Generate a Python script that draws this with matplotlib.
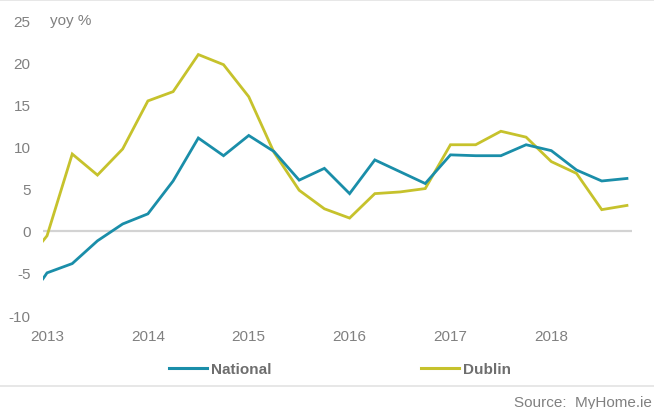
import matplotlib
matplotlib.use("Agg")
import matplotlib.pyplot as plt
from matplotlib.lines import Line2D

plt.rcParams['font.family'] = ['Liberation Sans', 'DejaVu Sans']

quarters = [2012.96, 2013.0, 2013.25, 2013.5, 2013.75, 2014.0, 2014.25, 2014.5, 2014.75,
            2015.0, 2015.25, 2015.5, 2015.75, 2016.0, 2016.25, 2016.5, 2016.75,
            2017.0, 2017.25, 2017.5, 2017.75, 2018.0, 2018.25, 2018.5, 2018.75]
national = [-5.7, -5.0, -3.9, -1.2, 0.8, 2.0, 5.9, 11.0, 8.9, 11.3, 9.4, 6.0, 7.4,
            4.4, 8.4, 7.0, 5.6, 9.0, 8.9, 8.9, 10.2, 9.5, 7.2, 5.9, 6.2]
dublin = [-1.2, -0.6, 9.1, 6.6, 9.7, 15.4, 16.5, 20.9, 19.7, 15.9, 9.3, 4.8, 2.6,
          1.5, 4.4, 4.6, 5.0, 10.2, 10.2, 11.8, 11.1, 8.2, 6.8, 2.5, 3.0]
year_ticks = [2013, 2014, 2015, 2016, 2017, 2018]
y_ticks = [-10, -5, 0, 5, 10, 15, 20, 25]

c_nat = '#1a8ea9'
c_dub = '#c6c22c'
c_txt = '#808080'
fs = 11

fig = plt.figure(figsize=(6.54, 4.10), dpi=100)
ax = fig.add_axes([43/654, 1-316/410, (632-43)/654, (316-21)/410])

ax.axhline(0, color='#d3d3d3', lw=1.6, zorder=1)
ax.plot(quarters, national, color=c_nat, lw=2.0, zorder=3, solid_joinstyle='miter')
ax.plot(quarters, dublin, color=c_dub, lw=2.0, zorder=2, solid_joinstyle='miter')

ax.set_xlim(2012.96, 2018.8)
ax.set_ylim(-10, 25)
ax.set_xticks(year_ticks)
ax.set_xticklabels([str(y) for y in year_ticks])
ax.set_yticks(y_ticks)
ax.set_yticklabels([str(v) for v in y_ticks])
for s in ax.spines.values():
    s.set_visible(False)
ax.tick_params(axis='both', length=0, colors=c_txt, labelsize=fs)
ax.tick_params(axis='y', pad=9)
ax.tick_params(axis='x', pad=10)

fig.text(50/654, 1-21/410, 'yoy %', color=c_txt, fontsize=fs, va='center', ha='left')

handles = [Line2D([], [], color=c_nat, lw=2.2), Line2D([], [], color=c_dub, lw=2.2)]
leg = fig.legend(handles, ['National', 'Dublin'], loc='center',
                 bbox_to_anchor=(340/654, 1-370/410), ncol=2, frameon=False,
                 handlelength=2.5, handletextpad=0.25, columnspacing=9.8,
                 prop={'weight': 'bold', 'size': fs})
for t in leg.get_texts():
    t.set_color('#6e6e6e')

fig.add_artist(Line2D([0, 1], [1-387/410, 1-387/410], color='#e3e3e3', lw=1.2,
                      transform=fig.transFigure))
fig.add_artist(Line2D([0, 1], [1-1/410, 1-1/410], color='#e3e3e3', lw=1.2,
                      transform=fig.transFigure))
fig.text(652/654, 1-403/410, 'Source:  MyHome.ie', color=c_txt, fontsize=fs,
         ha='right', va='center')

fig.savefig('out.png', dpi=100)
